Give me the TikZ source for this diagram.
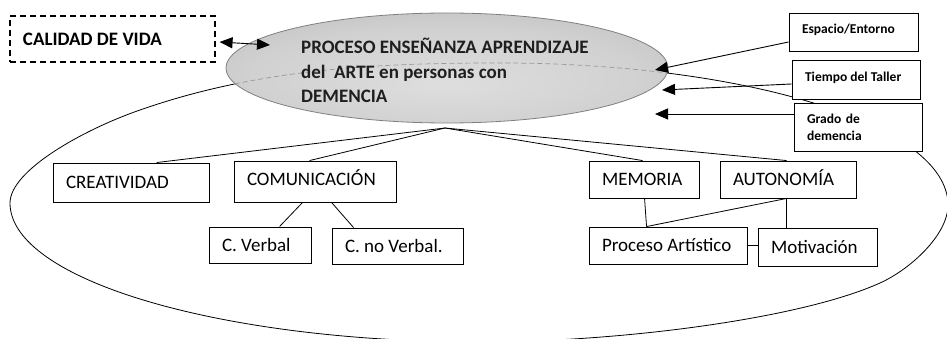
\documentclass[tikz,border=0pt]{standalone}
\usepackage{fontspec}
\setmainfont{Carlito}
\usetikzlibrary{arrows.meta,shapes.geometric}
\pgfdeclareradialshading{ellsh}{\pgfpoint{0bp}{-8bp}}{%
  color(0bp)=(black!13); color(22bp)=(black!18); color(40bp)=(black!27); color(50bp)=(black!36)}
\begin{document}
\begin{tikzpicture}[x=1pt,y=-1pt,
  box/.style={draw, line width=0.9pt, fill=white, inner xsep=13pt, inner ysep=0pt,
    font=\fontsize{19}{22}\selectfont, text height=12.2pt, text depth=0pt},
  sbox/.style={draw, line width=0.9pt, fill=white, inner xsep=13pt, inner ysep=0pt,
    font=\bfseries\fontsize{13.5}{17}\selectfont},
  conn/.style={line width=0.8pt},
  arr/.style={line width=0.9pt, -{Triangle[length=13pt,width=11pt]}},
  darr/.style={line width=0.9pt, {Triangle[length=13pt,width=11pt]}-{Triangle[length=13pt,width=11pt]}},
  ptext/.style={anchor=base west, inner sep=0pt, font=\bfseries\fontsize{19}{24}\selectfont, text=black!88},
]
\useasboundingbox (0,0) rectangle (947,339);
\path[save path=\outerp] (10,203) .. controls (10,170) and (85,129) .. (140,110)
  .. controls (260,68) and (380,63) .. (500,63)
  .. controls (747,63) and (948,125) .. (948,205)
  .. controls (948,235) and (910,269.5) .. (880,283)
  .. controls (800,319) and (620,342) .. (480,342)
  .. controls (221,342) and (10,280) .. (10,203) -- cycle;
% outer loop
\begin{scope}
  \clip (0,0) rectangle (947,339);
  \draw[line width=0.8pt, use path=\outerp];
\end{scope}
% central ellipse
\node[ellipse, minimum width=442pt, minimum height=110pt, inner sep=0pt,
      draw=black!50, line width=0.8pt, shading=ellsh]
      (proc) at (447,68) {};
\begin{scope}
  \clip (447,68) ellipse [x radius=220pt, y radius=54pt];
  \draw[dash pattern=on 5pt off 3pt, black!40, line width=0.7pt, use path=\outerp];
\end{scope}
\node[ptext] (proc1) at (301,54) {PROCESO ENSEÑANZA APRENDIZAJE};
\node[ptext] (proc2) at (301,78.5) {del\ \ ARTE en personas con};
\node[ptext] (proc3) at (301,103) {DEMENCIA};
\coordinate (hub) at (445,128);

% top-left
\node[draw, dash pattern=on 6pt off 4pt, line width=1.1pt, fill=white,
      minimum width=205pt, minimum height=46pt, inner xsep=13pt, inner ysep=0pt,
      font=\bfseries\fontsize{19}{22}\selectfont, text height=12.2pt, text depth=0pt]
      (cal) at (112.5,39) {\makebox[179pt][l]{CALIDAD DE VIDA}};
\coordinate (calt) at (270,45);
\draw[darr] ([xshift=4pt,yshift=-3pt]cal.east) -- (calt);

% right boxes
\node[sbox, minimum width=129pt, minimum height=38pt, text height=9pt, text depth=5pt]
      (esp) at (853.5,32) {\makebox[103pt][l]{Espacio/Entorno}};
\node[sbox, minimum width=128pt, minimum height=39pt, text height=9pt, text depth=5pt]
      (tiem) at (856,79.5) {\makebox[102pt][l]{Tiempo del Taller}};
\node[sbox, minimum width=128pt, minimum height=48pt, text width=102pt, align=left]
      (grado) at (858,127) {Grado de\\demencia};
\coordinate (tipE) at (655,70);
\coordinate (tipT) at (662,90);
\coordinate (tipG) at (655,114);
\draw[arr] ([yshift=-10pt]esp.west) -- (tipE);
\draw[arr] ([yshift=-4.5pt]tiem.west) -- (tipT);
\draw[arr] ([yshift=13pt]grado.west) -- (tipG);

% lower boxes
\node[box, minimum width=156pt, minimum height=39pt] (crea) at (131,182.5) {\makebox[130pt][l]{CREATIVIDAD}};
\node[box, minimum width=162pt, minimum height=41pt, text depth=5pt] (com) at (315,181.5) {\makebox[136pt][l]{COMUNICACIÓN}};
\node[box, minimum width=102pt, minimum height=36pt] (cv) at (260,245) {\makebox[76pt][l]{C. Verbal}};
\node[box, minimum width=131pt, minimum height=36pt] (cnv) at (397.5,246) {\makebox[105pt][l]{C. no Verbal.}};
\node[box, minimum width=110pt, minimum height=37pt] (mem) at (644,179.5) {\makebox[84pt][l]{MEMORIA}};
\node[box, minimum width=136pt, minimum height=37pt] (aut) at (788,179.5) {\makebox[110pt][l]{AUTONOMÍA}};
\node[box, minimum width=158pt, minimum height=37pt] (pa) at (668,245.5) {\makebox[132pt][l]{Proceso Artístico}};
\node[box, minimum width=119pt, minimum height=38pt] (mot) at (817.5,247) {\makebox[93pt][l]{Motivación}};

% connectors
\draw[conn] (hub) -- ([xshift=104pt]crea.north west);
\draw[conn] (hub) -- ([xshift=76pt]com.north west);
\draw[conn] (hub) -- ([xshift=54pt]mem.north west);
\draw[conn] (hub) -- ([xshift=67pt]aut.north west);
\draw[conn] ([xshift=69pt]com.south west) -- ([xshift=71pt]cv.north west);
\draw[conn] ([xshift=98pt]com.south west) -- ([xshift=22pt]cnv.north west);
\draw[conn] ([xshift=56pt]mem.south west) -- ([xshift=58pt]pa.north west);
\draw[conn] ([xshift=67pt]aut.south west) -- ([xshift=58pt]pa.north west);
\draw[conn] ([xshift=67pt]aut.south west) -- ([xshift=29pt]mot.north west);
\draw[conn] (pa.east) -- (pa.east -| mot.west);
\end{tikzpicture}
\end{document}
